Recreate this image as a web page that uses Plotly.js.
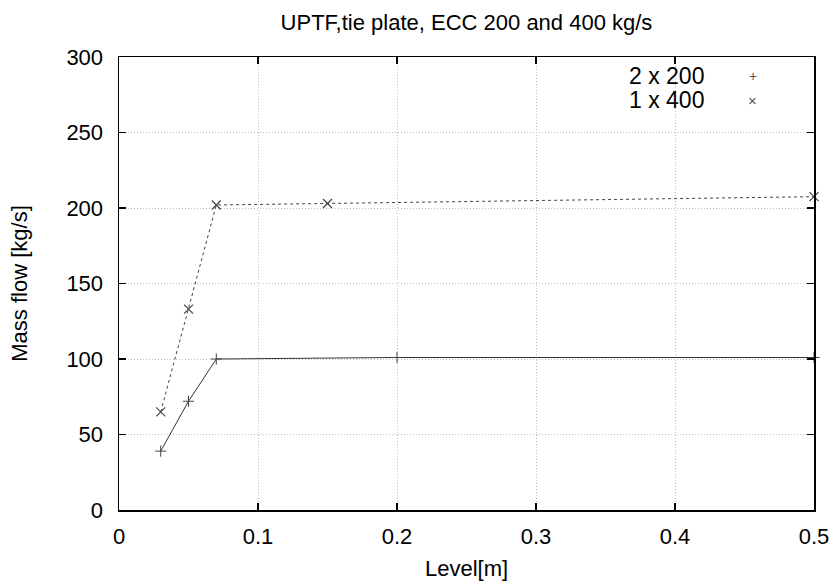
<!DOCTYPE html>
<html>
<head>
<meta charset="utf-8">
<script src="https://cdn.plot.ly/plotly-3.0.1.min.js"></script>
<style>html,body{margin:0;padding:0;background:#fff;}#chart{width:836px;height:584px;}</style>
</head>
<body>
<div id="chart"></div>
<script>
// Data
const level200 = [0.03, 0.05, 0.07, 0.2, 0.5];
const flow200 = [39, 72, 100, 101, 101];
const level400 = [0.03, 0.05, 0.07, 0.15, 0.5];
const flow400 = [65, 133, 202, 203, 207.5];
const seriesNames = ["2 x 200", "1 x 400"];
const xTicks = [0, 0.1, 0.2, 0.3, 0.4, 0.5];
const yTicks = [0, 50, 100, 150, 200, 250, 300];

const FONT = "Liberation Sans, Arial, Helvetica, sans-serif";
const markColor = "#444";

const traces = [
  {
    x: level200, y: flow200, name: seriesNames[0], type: "scatter", mode: "lines+markers",
    line: {color: "#333", width: 1},
    marker: {symbol: "cross-thin-open", size: 8, line: {color: markColor, width: 1}, color: markColor},
    showlegend: false, cliponaxis: false
  },
  {
    x: level400, y: flow400, name: seriesNames[1], type: "scatter", mode: "lines+markers",
    line: {color: "#444", width: 1, dash: "3px,3px"},
    marker: {symbol: "x-thin-open", size: 9, line: {color: markColor, width: 1.2}, color: markColor},
    showlegend: false, cliponaxis: false
  }
];

const axisCommon = {
  showline: true, linecolor: "#000", linewidth: 1.5, mirror: "allticks",
  ticks: "inside", ticklen: 7, tickwidth: 1.5, tickcolor: "#000",
  showgrid: true, gridcolor: "#c0c0c0", gridwidth: 1, griddash: "1px,2px",
  zeroline: false,
  tickfont: {family: FONT, size: 22, color: "#000"}
};

const layout = {
  width: 836, height: 584,
  paper_bgcolor: "#fff", plot_bgcolor: "#fff",
  margin: {l: 119, r: 22, t: 57, b: 74},
  title: {text: "UPTF,tie plate, ECC 200 and 400 kg/s", font: {family: FONT, size: 22, color: "#000"},
          x: 0.5, xref: "paper", y: 0.962, yanchor: "middle"},
  xaxis: Object.assign({}, axisCommon, {
    range: [0, 0.5], tickvals: xTicks, ticktext: xTicks.map(String), ticklabelstandoff: 6,
    title: {text: "Level[m]", font: {family: FONT, size: 22, color: "#000"}, standoff: 12}
  }),
  yaxis: Object.assign({}, axisCommon, {
    range: [0, 300], tickvals: yTicks, ticktext: yTicks.map(String), ticklabelstandoff: 10,
    title: {text: "Mass flow [kg/s]", font: {family: FONT, size: 22, color: "#000"}, standoff: 32}
  }),
  showlegend: false,
  annotations: [
    {xref: "paper", yref: "paper", x: 0.845, y: 0.958, xanchor: "right", yanchor: "middle",
     text: seriesNames[0], showarrow: false, font: {family: FONT, size: 23, color: "#000"}},
    {xref: "paper", yref: "paper", x: 0.845, y: 0.905, xanchor: "right", yanchor: "middle",
     text: seriesNames[1], showarrow: false, font: {family: FONT, size: 23, color: "#000"}},
    {xref: "paper", yref: "paper", x: 0.912, y: 0.958, xanchor: "center", yanchor: "middle",
     text: "+", showarrow: false, font: {family: FONT, size: 14, color: "#555"}},
    {xref: "paper", yref: "paper", x: 0.912, y: 0.905, xanchor: "center", yanchor: "middle",
     text: "×", showarrow: false, font: {family: FONT, size: 15, color: "#555"}}
  ]
};

Plotly.newPlot("chart", traces, layout, {displayModeBar: false, staticPlot: true});
</script>
</body>
</html>
